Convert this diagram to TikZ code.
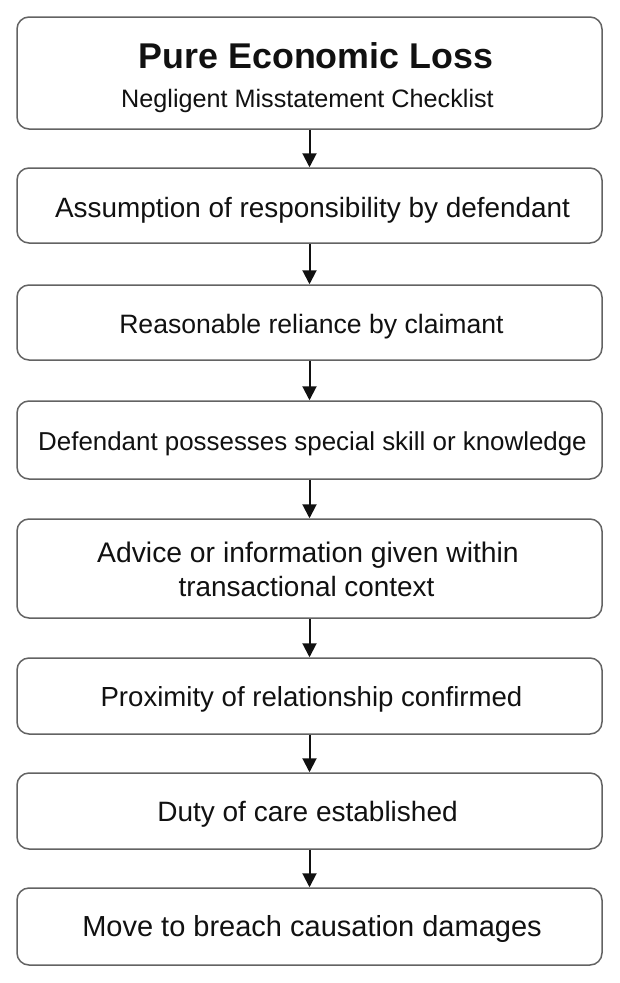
\documentclass[tikz,border=0pt]{standalone}
\usepackage{fontspec}
\setmainfont{Liberation Sans}
\usetikzlibrary{arrows.meta}
\definecolor{boxline}{HTML}{636363}
\definecolor{txt}{HTML}{111111}
\tikzset{
  stepbox/.style={draw=boxline, line width=1.5pt, rounded corners=12pt, minimum width=585pt, inner sep=0pt},
  flowarrow/.style={draw=txt, line width=2pt, -{Triangle[width=14pt,length=14pt]}},
  steptext/.style={inner sep=0pt, text=txt, anchor=base, font=\fontsize{#1}{#1}\selectfont},
  steptext/.default=28
}
\begin{document}
\begin{tikzpicture}[x=1pt,y=1pt]
\useasboundingbox (0,0) rectangle (619,-983);
\fill[white] (0,0) rectangle (619,-983);
\node[stepbox, minimum height=112pt] (b1) at (309.5,-73) {};
\node[stepbox, minimum height=75pt] (b2) at (309.5,-205.5) {};
\node[stepbox, minimum height=75pt] (b3) at (309.5,-322.5) {};
\node[stepbox, minimum height=78pt] (b4) at (309.5,-440) {};
\node[stepbox, minimum height=99pt] (b5) at (309.5,-568.5) {};
\node[stepbox, minimum height=76pt] (b6) at (309.5,-696) {};
\node[stepbox, minimum height=76pt] (b7) at (309.5,-811) {};
\node[stepbox, minimum height=77pt] (b8) at (309.5,-926.5) {};
\node[steptext=35.8, font=\fontsize{35.8}{36}\selectfont\bfseries] (t1) at (316,-68) {Pure Economic Loss};
\node[steptext=25.2] (t2) at (307.5,-107) {Negligent Misstatement Checklist};
\node[steptext=27.9] (t3) at (312.5,-217) {Assumption of responsibility by defendant};
\node[steptext=26.6] (t4) at (311.5,-333.3) {Reasonable reliance by claimant};
\node[steptext=25.9] (t5) at (312.5,-450.7) {Defendant possesses special skill or knowledge};
\node[steptext=28.3] (t6) at (308,-562.7) {Advice or information given within};
\node[steptext=27.9] (t7) at (306.5,-596) {transactional context};
\node[steptext=27.6] (t8) at (311.5,-706) {Proximity of relationship confirmed};
\node[steptext=28] (t9) at (307.5,-821) {Duty of care established};
\node[steptext=29] (t10) at (312,-936) {Move to breach causation damages};
\draw[flowarrow] (b1.south) -- (b2.north);
\draw[flowarrow] (b2.south) -- (b3.north);
\draw[flowarrow] (b3.south) -- (b4.north);
\draw[flowarrow] (b4.south) -- (b5.north);
\draw[flowarrow] (b5.south) -- (b6.north);
\draw[flowarrow] (b6.south) -- (b7.north);
\draw[flowarrow] (b7.south) -- (b8.north);
\end{tikzpicture}
\end{document}
